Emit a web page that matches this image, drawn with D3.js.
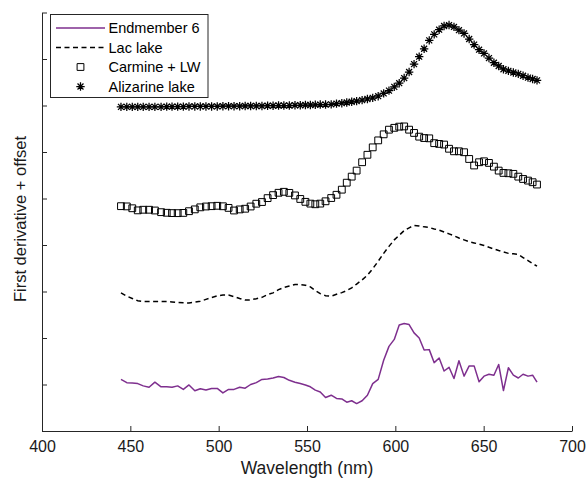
<!DOCTYPE html>
<html>
<head>
<meta charset="utf-8">
<script src="https://cdn.jsdelivr.net/npm/d3@7"></script>
<style>
  html, body { margin: 0; padding: 0; background: #ffffff; }
  svg { display: block; font-family: "Liberation Sans", Arial, Helvetica, sans-serif; }
</style>
</head>
<body>
<svg id="chart" width="587" height="481"></svg>
<script>
// Wavelength sampling (nm)
const wavelengths = [
  444.7, 448.0, 451.1, 454.2, 457.3, 460.6, 463.9, 467.4, 470.6, 473.6,
  476.8, 480.0, 483.2, 486.5, 489.6, 492.8, 496.0, 499.2, 502.4, 505.6,
  508.7, 511.9, 515.0, 518.1, 521.3, 524.5, 527.7, 530.8, 533.9, 536.9,
  540.0, 543.2, 546.2, 549.1, 551.9, 554.7, 557.5, 560.5, 563.7, 566.7,
  569.7, 572.5, 575.3, 578.1, 581.2, 584.2, 587.2, 590.3, 593.4, 596.4,
  599.4, 602.2, 605.0, 607.8, 610.6, 613.5, 616.3, 619.2, 622.0, 624.8,
  627.6, 630.4, 633.2, 636.0, 638.9, 641.8, 644.6, 647.4, 650.2, 653.0,
  655.8, 658.5, 661.2, 664.0, 666.8, 669.6, 672.3, 675.1, 677.7, 680.2
];

// First derivative spectra, each shifted by its own offset
const endmember6 = [
  1.11, 1.04, 1.03, 1.02, 0.97, 0.94, 1.05, 0.95, 0.95, 0.94,
  0.97, 0.895, 0.99, 0.865, 0.91, 0.88, 0.915, 0.915, 0.82, 0.895,
  0.895, 0.94, 0.92, 1.00, 1.04, 1.11, 1.12, 1.14, 1.17, 1.15,
  1.09, 1.05, 1.02, 0.99, 0.95, 0.88, 0.84, 0.72, 0.77, 0.70,
  0.69, 0.62, 0.65, 0.59, 0.65, 0.77, 1.02, 1.11, 1.52, 1.82,
  1.97, 2.28, 2.31, 2.29, 2.11, 2.00, 1.74, 1.75, 1.47, 1.57,
  1.29, 1.37, 1.13, 1.51, 1.18, 1.40, 1.40, 1.06, 1.18, 1.22,
  1.20, 1.43, 0.87, 1.36, 1.20, 1.14, 1.22, 1.18, 1.20, 1.05
];

const lacLake = [
  2.97, 2.90, 2.85, 2.80, 2.783, 2.783, 2.783, 2.783, 2.783, 2.776,
  2.766, 2.758, 2.754, 2.772, 2.79, 2.83, 2.87, 2.905, 2.925, 2.925,
  2.89, 2.85, 2.815, 2.82, 2.845, 2.875, 2.935, 2.97, 3.04, 3.087,
  3.12, 3.15, 3.15, 3.136, 3.10, 3.02, 2.955, 2.91, 2.90, 2.94,
  2.975, 3.02, 3.08, 3.16, 3.25, 3.35, 3.49, 3.65, 3.82, 3.97,
  4.11, 4.21, 4.31, 4.37, 4.42, 4.41, 4.39, 4.375, 4.345, 4.32,
  4.28, 4.24, 4.20, 4.15, 4.11, 4.07, 4.045, 4.02, 3.99, 3.95,
  3.915, 3.88, 3.85, 3.82, 3.81, 3.795, 3.73, 3.665, 3.60, 3.545
];

const carmineLW = [
  4.835, 4.83, 4.79, 4.745, 4.758, 4.758, 4.742, 4.706, 4.693, 4.686,
  4.685, 4.69, 4.727, 4.766, 4.81, 4.828, 4.835, 4.843, 4.833, 4.798,
  4.742, 4.765, 4.78, 4.828, 4.888, 4.924, 5.008, 5.073, 5.123, 5.144,
  5.121, 5.066, 4.99, 4.928, 4.89, 4.876, 4.89, 4.94, 5.01, 5.08,
  5.19, 5.34, 5.47, 5.60, 5.78, 5.94, 6.10, 6.25, 6.38, 6.48,
  6.52, 6.545, 6.55, 6.48, 6.41, 6.33, 6.30, 6.294, 6.19, 6.174,
  6.16, 6.07, 6.015, 6.015, 5.995, 5.85, 5.71, 5.78, 5.80, 5.765,
  5.685, 5.60, 5.55, 5.543, 5.53, 5.47, 5.42, 5.385, 5.35, 5.30
];

const alizarineLake = [
  6.97, 6.97, 6.97, 6.97, 6.97, 6.97, 6.97, 6.97, 6.975, 6.975,
  6.975, 6.975, 6.98, 6.98, 6.98, 6.98, 6.98, 6.98, 6.985, 6.985,
  6.985, 6.985, 6.99, 6.99, 6.99, 6.99, 6.995, 6.995, 7.00, 7.00,
  7.00, 7.005, 7.005, 7.01, 7.01, 7.015, 7.02, 7.02, 7.025, 7.04,
  7.05, 7.065, 7.08, 7.095, 7.115, 7.14, 7.165, 7.20, 7.26, 7.32,
  7.40, 7.48, 7.59, 7.72, 7.89, 8.05, 8.22, 8.40, 8.53, 8.63,
  8.71, 8.73, 8.69, 8.62, 8.55, 8.43, 8.31, 8.20, 8.12, 8.02,
  7.92, 7.85, 7.78, 7.745, 7.71, 7.68, 7.64, 7.60, 7.57, 7.54
];

const seriesNames = ["Endmember 6", "Lac lake", "Carmine + LW", "Alizarine lake"];
const xTicks = [400, 450, 500, 550, 600, 650, 700];
const yTicks = [0, 1, 2, 3, 4, 5, 6, 7, 8, 9];

const purple = "#7e2f8e";
const axisColor = "#262626";

const svg = d3.select("#chart");

const x = d3.scaleLinear().domain([400, 700]).range([42, 572]);
const y = d3.scaleLinear().domain([0, 9]).range([431, 12.5]);

// Axes
const xAxis = d3.axisBottom(x).tickValues(xTicks).tickSizeInner(-5).tickSizeOuter(0).tickPadding(10);
const gx = svg.append("g").attr("transform", `translate(0,${y(0)})`).call(xAxis);
gx.select(".domain").attr("stroke", axisColor);
gx.selectAll(".tick line").attr("stroke", axisColor);
gx.selectAll(".tick text")
  .attr("fill", "#1a1a1a")
  .style("font-size", "16px")
  .style("font-family", "'Liberation Sans', Arial, sans-serif");

const yAxis = d3.axisLeft(y).tickValues(yTicks).tickSizeInner(-5).tickSizeOuter(0).tickFormat("");
const gy = svg.append("g").attr("transform", `translate(${x(400)},0)`).call(yAxis);
gy.select(".domain").attr("stroke", axisColor);
gy.selectAll(".tick line").attr("stroke", axisColor);

// Axis titles
svg.append("text")
  .attr("x", (x(400) + x(700)) / 2)
  .attr("y", 474)
  .attr("text-anchor", "middle")
  .attr("fill", "#1a1a1a")
  .style("font-size", "17.5px")
  .text("Wavelength (nm)");

svg.append("text")
  .attr("transform", `translate(26,219) rotate(-90)`)
  .attr("text-anchor", "middle")
  .attr("fill", "#1a1a1a")
  .style("font-size", "16.5px")
  .text("First derivative + offset");

const pts = vals => wavelengths.map((w, i) => [w, vals[i]]);
const line = d3.line().x(d => x(d[0])).y(d => y(d[1]));

// Endmember 6: solid purple line
svg.append("path")
  .datum(pts(endmember6))
  .attr("fill", "none")
  .attr("stroke", purple)
  .attr("stroke-width", 1.5)
  .attr("stroke-linejoin", "round")
  .attr("d", line);

// Lac lake: dashed black line
svg.append("path")
  .datum(pts(lacLake))
  .attr("fill", "none")
  .attr("stroke", "#000")
  .attr("stroke-width", 1.5)
  .attr("stroke-dasharray", "5,3.5")
  .attr("d", line);

// Marker shapes
const squarePath = s => `M${-s},${-s}H${s}V${s}H${-s}Z`;
const asteriskPath = r => {
  const d = r * Math.SQRT1_2;
  return `M${-r},0H${r}M0,${-r}V${r}M${-d},${-d}L${d},${d}M${-d},${d}L${d},${-d}`;
};

// Carmine + LW: open squares
svg.append("g").selectAll("path")
  .data(pts(carmineLW))
  .join("path")
  .attr("transform", d => `translate(${x(d[0])},${y(d[1])})`)
  .attr("d", squarePath(3.4))
  .attr("fill", "none")
  .attr("stroke", "#000")
  .attr("stroke-width", 1);

// Alizarine lake: asterisks
svg.append("g").selectAll("path")
  .data(pts(alizarineLake))
  .join("path")
  .attr("transform", d => `translate(${x(d[0])},${y(d[1])})`)
  .attr("d", asteriskPath(4.2))
  .attr("fill", "none")
  .attr("stroke", "#000")
  .attr("stroke-width", 1.25);

// Legend
const legend = svg.append("g");
legend.append("rect")
  .attr("x", 50.5).attr("y", 14.5)
  .attr("width", 157.5).attr("height", 83)
  .attr("fill", "#fff")
  .attr("stroke", axisColor)
  .attr("stroke-width", 1);

const rowY = [28, 47.5, 67, 86.5];
const sx0 = 56, sx1 = 105, sxm = 80.5;

legend.append("line").attr("x1", sx0).attr("x2", sx1).attr("y1", rowY[0]).attr("y2", rowY[0])
  .attr("stroke", purple).attr("stroke-width", 1.5);
legend.append("line").attr("x1", sx0).attr("x2", sx1).attr("y1", rowY[1]).attr("y2", rowY[1])
  .attr("stroke", "#000").attr("stroke-width", 1.5).attr("stroke-dasharray", "5,3.5");
legend.append("path").attr("transform", `translate(${sxm},${rowY[2]})`)
  .attr("d", squarePath(3.4)).attr("fill", "none").attr("stroke", "#000");
legend.append("path").attr("transform", `translate(${sxm},${rowY[3]})`)
  .attr("d", asteriskPath(4.2)).attr("fill", "none").attr("stroke", "#000").attr("stroke-width", 1.25);

legend.selectAll("text.lbl")
  .data(seriesNames)
  .join("text")
  .attr("class", "lbl")
  .attr("x", 108.5)
  .attr("y", (d, i) => rowY[i])
  .attr("dy", "0.35em")
  .attr("fill", "#000")
  .style("font-size", "14.5px")
  .text(d => d);
</script>
</body>
</html>
